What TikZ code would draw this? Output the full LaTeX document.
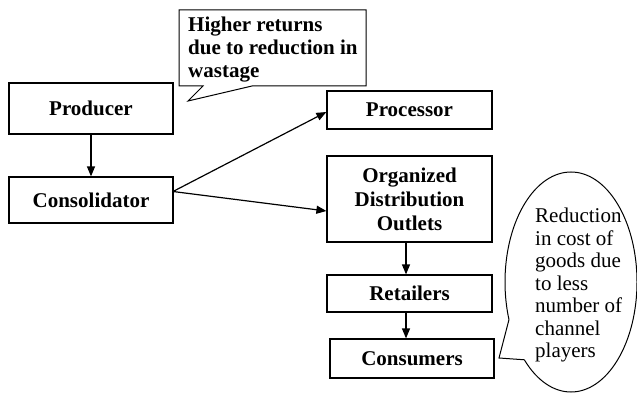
\documentclass[tikz,border=0pt]{standalone}
\usepackage{fontspec}
\setmainfont{Liberation Serif}
\usetikzlibrary{arrows.meta}
\begin{document}
\begin{tikzpicture}[x=1pt,y=-1pt,
  stagebox/.style={draw,line width=1.2pt,inner sep=0pt,align=center,
    font=\fontsize{21}{24}\selectfont\bfseries},
  flow/.style={line width=1.2pt,-{Triangle[length=10pt,width=8pt]}},
  balloon/.style={draw,line width=1pt,line join=miter}]
  \useasboundingbox (0,0) rectangle (637,393);

  % supply chain stages
  \node[stagebox,minimum width=164pt,minimum height=51pt] (prod) at (91,108.5) {Producer};
  \node[stagebox,minimum width=164pt,minimum height=46pt] (cons) at (91,200) {Consolidator};
  \node[stagebox,minimum width=165pt,minimum height=38pt] (proc) at (409.5,110) {Processor};
  \node[stagebox,minimum width=165pt,minimum height=86pt] (org) at (409.5,199) {Organized\\Distribution\\Outlets};
  \node[stagebox,minimum width=165pt,minimum height=37pt] (ret) at (409.5,293.5) {Retailers};
  \node[stagebox,minimum width=164pt,minimum height=39pt] (cust) at (412,358.5) {Consumers};

  % flows
  \coordinate (split) at (173,191.5);
  \draw[flow] (prod.south) -- (prod.south |- cons.north);
  \draw[flow] (split) -- (proc.west |- 0,112);
  \draw[flow] (split) -- (org.west |- 0,211);
  \draw[flow] (org.south -| 406,0) -- (ret.north -| 406,0);
  \draw[flow] (ret.south -| 406,0) -- (cust.north -| 406,0);

  % rectangular callout
  \draw[balloon] (179,10) -- (366,10) -- (366,86) -- (252,86) -- (188,101)
    -- (203,86) -- (179,86) -- cycle;
  \node[anchor=north west,inner sep=0pt,align=left,
    font=\fontsize{21}{23}\selectfont\bfseries] (gain) at (188,17)
    {Higher returns\\due to reduction in\\wastage};

  % elliptical callout (radii in canvas units, angles counter-clockwise)
  \draw[balloon] (571,282) ++(225:66pt and 110pt)
    arc[start angle=225,end angle=560,x radius=66pt,y radius=110pt]
    -- (499,358) -- cycle;
  \node[anchor=north west,inner sep=0pt,align=left,
    font=\fontsize{21}{22.5}\selectfont] (cost) at (535,208)
    {Reduction\\in cost of\\goods due\\to less\\number of\\channel\\players};
\end{tikzpicture}
\end{document}
